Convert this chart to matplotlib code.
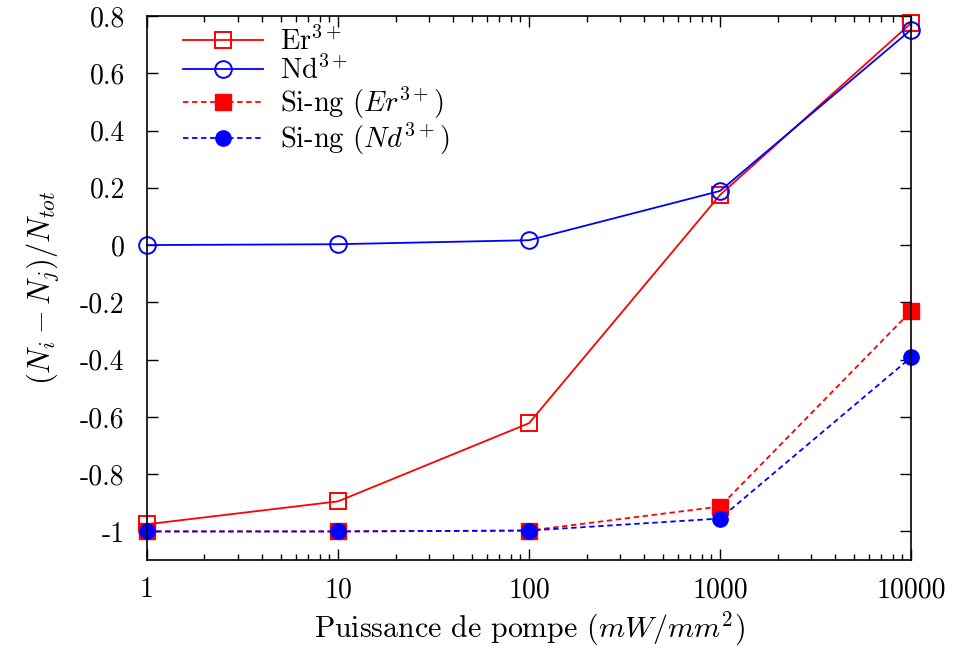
import matplotlib
matplotlib.use("Agg")
import matplotlib.pyplot as plt
from matplotlib.ticker import FixedLocator, LogLocator, NullFormatter

plt.rcParams["font.family"] = "serif"
plt.rcParams["font.serif"] = ["cmr10"]
plt.rcParams["mathtext.fontset"] = "cm"
plt.rcParams["axes.unicode_minus"] = False
plt.rcParams["axes.formatter.use_mathtext"] = True

# pump power (mW/mm^2)
puissance = [1, 10, 100, 1000, 10000]

er = [-0.975, -0.895, -0.622, 0.175, 0.775]
nd = [0.0, 0.003, 0.017, 0.189, 0.752]
si_er = [-1.0, -1.0, -0.997, -0.913, -0.231]
si_nd = [-1.0, -1.0, -0.997, -0.955, -0.392]

xticks = [1, 10, 100, 1000, 10000]
xlabels = ["1", "10", "100", "1000", "10000"]
yticks = [-1.0, -0.8, -0.6, -0.4, -0.2, 0.0, 0.2, 0.4, 0.6, 0.8]
ylabels = ["-1", "-0.8", "-0.6", "-0.4", "-0.2", "0", "0.2", "0.4", "0.6", "0.8"]

fig = plt.figure(figsize=(9.57, 6.52), dpi=100)
ax = fig.add_axes([0.1536, 0.141, 0.7984, 0.8345])

ax.plot(puissance, er, color="red", lw=1.3, marker="s", ms=12, mfc="none",
        mew=1.4, label=r"Er$^{3+}$")
ax.plot(puissance, nd, color="blue", lw=1.3, marker="o", ms=12, mfc="none",
        mew=1.4, label=r"Nd$^{3+}$")
ax.plot(puissance, si_er, color="red", lw=1.3, ls=(0, (3, 2)), marker="s",
        ms=11, label=r"Si-ng $(Er^{3+})$")
ax.plot(puissance, si_nd, color="blue", lw=1.3, ls=(0, (3, 2)), marker="o",
        ms=11, label=r"Si-ng $(Nd^{3+})$")

ax.set_xscale("log")
ax.set_xlim(1, 10000)
ax.set_ylim(-1.1, 0.8)
ax.xaxis.set_major_locator(FixedLocator(xticks))
ax.set_xticklabels(xlabels)
ax.xaxis.set_minor_locator(LogLocator(base=10, subs=range(2, 10)))
ax.xaxis.set_minor_formatter(NullFormatter())
ax.set_yticks(yticks)
ax.set_yticklabels(ylabels)

for side in ax.spines.values():
    side.set_linewidth(1.2)
ax.tick_params(which="both", direction="in", top=True, right=True,
               labelsize=20, width=1.0)
ax.tick_params(axis="y", which="major", length=8, pad=16)
ax.tick_params(axis="x", which="major", length=8, pad=12)
ax.tick_params(which="minor", length=4)

ax.set_xlabel(r"Puissance de pompe $(mW/mm^2)$", fontsize=21.5, labelpad=5)
ax.set_ylabel(r"$(N_i - N_j)/N_{tot}$", fontsize=22, labelpad=14)

ax.legend(loc="upper left", frameon=False, fontsize=20.5, handlelength=2.8,
          borderaxespad=0.0, labelspacing=0.0, handletextpad=0.6,
          bbox_to_anchor=(0.032, 1.0))

for line in ax.get_lines():
    line.set_clip_on(False)

fig.savefig("out.png", dpi=100)
